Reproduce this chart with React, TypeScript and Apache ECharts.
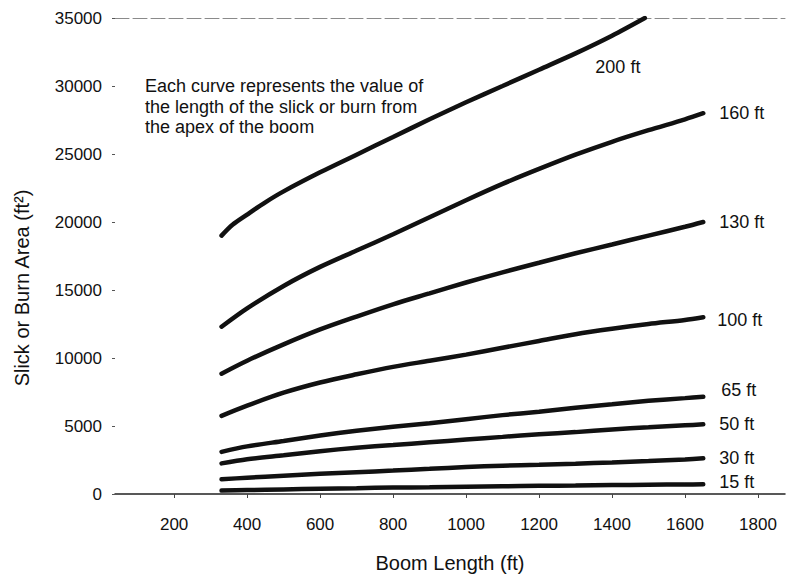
import React, { useEffect, useRef } from "react";
import * as echarts from "echarts";

// Boom length (ft) sample points
const boomLen = [330, 400, 500, 600, 700, 800, 900, 1000, 1100, 1200, 1300, 1400, 1500, 1600, 1650];
const boomLen200 = [330, 360, 400, 450, 500, 600, 700, 800, 900, 1000, 1100, 1200, 1300, 1400, 1490];

// Slick or burn area (ft²) per slick length
const area200 = [19000, 19800, 20550, 21450, 22250, 23650, 24950, 26250, 27550, 28800, 30000, 31200, 32400, 33700, 35000];
const area160 = [12300, 13650, 15300, 16700, 17900, 19100, 20350, 21600, 22800, 23900, 24950, 25900, 26750, 27550, 28000];
const area130 = [8850, 9800, 11000, 12100, 13050, 13950, 14750, 15550, 16300, 17000, 17700, 18350, 19000, 19650, 20000];
const area100 = [5750, 6500, 7450, 8200, 8800, 9350, 9800, 10250, 10750, 11250, 11750, 12150, 12500, 12800, 13000];
const area65 = [3100, 3500, 3900, 4300, 4650, 4950, 5200, 5500, 5800, 6050, 6350, 6600, 6850, 7050, 7150];
const area50 = [2250, 2550, 2850, 3150, 3400, 3600, 3800, 4000, 4200, 4400, 4550, 4750, 4900, 5050, 5120];
const area30 = [1080, 1200, 1350, 1480, 1600, 1720, 1850, 1980, 2080, 2150, 2230, 2320, 2420, 2540, 2620];
const area15 = [250, 290, 340, 390, 430, 470, 500, 540, 570, 600, 630, 660, 680, 700, 710];

const seriesNames = ["200 ft", "160 ft", "130 ft", "100 ft", "65 ft", "50 ft", "30 ft", "15 ft"];
const xTickValues = [200, 400, 600, 800, 1000, 1200, 1400, 1600, 1800];
const label200Pos = [1416, 31400];

const noteLines = [
  "Each curve represents the value of",
  "the length of the slick or burn from",
  "the apex of the boom",
];

const FONT = "'Liberation Sans', Arial, sans-serif";
const INK = "#111";

export default function App() {
  const ref = useRef<HTMLDivElement>(null);

  useEffect(() => {
    if (!ref.current) return;
    const chart = echarts.init(ref.current, undefined, { renderer: "svg" });

    const pair = (xs: number[], ys: number[]) => xs.map((x, i) => [x, ys[i]]);
    const lowerSets = [area160, area130, area100, area65, area50, area30, area15];
    const plain = (v: number) => String(v);
    const labelOffsets: Record<string, number[]> = {
      "65 ft": [4, -7],
      "100 ft": [0, 3],
      "15 ft": [2, -2],
    };

    const baseLine = {
      type: "line",
      xAxisIndex: 0,
      yAxisIndex: 0,
      showSymbol: false,
      symbol: "none",
      smooth: 0.3,
      lineStyle: { color: INK, width: 4.5, cap: "round" },
      z: 3,
    };

    const series: any[] = [
      {
        ...baseLine,
        name: seriesNames[0],
        data: pair(boomLen200, area200),
        markPoint: {
          symbol: "circle",
          symbolSize: 1,
          itemStyle: { color: "rgba(0,0,0,0)" },
          label: {
            show: true,
            position: "inside",
            formatter: seriesNames[0],
            color: INK,
            fontSize: 18,
            fontFamily: FONT,
          },
          data: [{ coord: label200Pos }],
        },
      },
      ...lowerSets.map((arr, i) => ({
        ...baseLine,
        name: seriesNames[i + 1],
        data: pair(boomLen, arr),
        endLabel: {
          show: true,
          formatter: seriesNames[i + 1],
          color: INK,
          fontSize: 18,
          fontFamily: FONT,
          distance: 14,
          offset: labelOffsets[seriesNames[i + 1]] || [2, 0],
        },
      })),
    ];

    chart.setOption({
      animation: false,
      backgroundColor: "#fff",
      textStyle: { fontFamily: FONT },
      grid: { left: 115, right: 3, top: 18, bottom: 83, containLabel: false, outerBoundsMode: "none" },
      xAxis: [
        {
          type: "value",
          min: 38,
          max: 1874,
          name: "Boom Length (ft)",
          nameLocation: "middle",
          nameGap: 59,
          nameTextStyle: { color: INK, fontSize: 20, fontFamily: FONT },
          axisLine: { show: true, lineStyle: { color: "#222", width: 1.5 } },
          axisTick: { show: true, length: 4, inside: false, customValues: xTickValues, lineStyle: { color: "#444" } },
          axisLabel: { show: true, customValues: xTickValues, formatter: plain, color: INK, fontSize: 17, fontFamily: FONT, margin: 22 },
          splitLine: { show: false },
        },
        {
          type: "value",
          position: "top",
          min: 38,
          max: 1874,
          axisLine: { show: true, lineStyle: { color: "#8a8a8a", width: 1, type: [14, 4] } },
          axisTick: { show: false },
          axisLabel: { show: false },
          splitLine: { show: false },
        },
      ],
      yAxis: {
        type: "value",
        min: 0,
        max: 35000,
        interval: 5000,
        axisLine: { show: false },
        axisTick: { show: true, length: 3, lineStyle: { color: "#555" } },
        axisLabel: { color: INK, fontSize: 17, fontFamily: FONT, margin: 13, formatter: plain },
        splitLine: { show: false },
      },
      graphic: [
        {
          type: "text",
          left: 145,
          top: 76,
          style: {
            text: noteLines.join("\n"),
            fill: INK,
            fontSize: 18,
            fontFamily: FONT,
            lineHeight: 20.5,
          },
        },
        {
          type: "text",
          x: 22,
          y: 288,
          rotation: Math.PI / 2,
          style: {
            text: "Slick or Burn Area (ft²)",
            fill: INK,
            fontSize: 20,
            fontFamily: FONT,
            align: "center",
            verticalAlign: "middle",
          },
        },
      ],
      series,
    });

    return () => chart.dispose();
  }, []);

  return (
    <div
      ref={ref}
      style={{ position: "absolute", left: 0, top: 0, width: 788, height: 577, background: "#fff" }}
    />
  );
}
